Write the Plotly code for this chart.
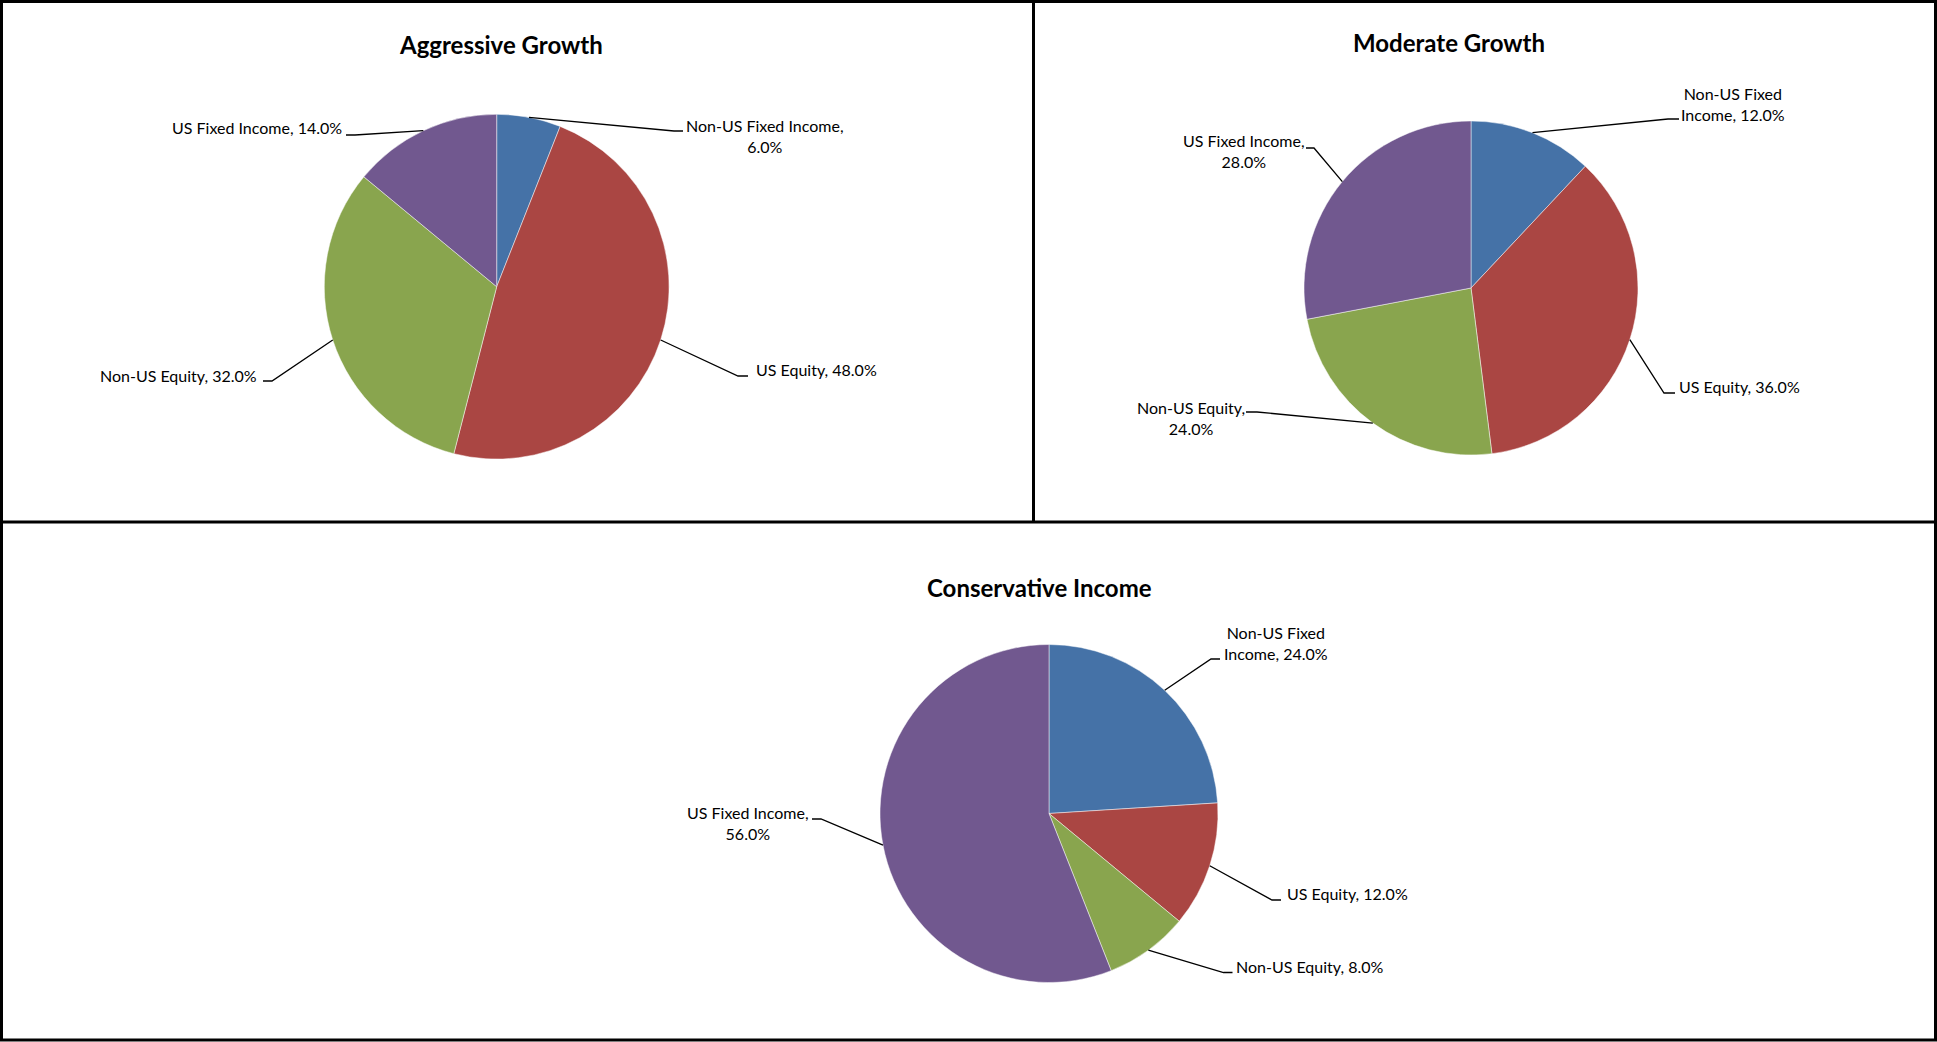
import math
import plotly.graph_objects as go

# ---------------- data ----------------
categories = ["Non-US Fixed Income", "US Equity", "Non-US Equity", "US Fixed Income"]
aggressive = [6.0, 48.0, 32.0, 14.0]
moderate = [12.0, 36.0, 24.0, 28.0]
conservative = [24.0, 12.0, 8.0, 56.0]
titles = ["Aggressive Growth", "Moderate Growth", "Conservative Income"]
colors = ["#4572A7", "#AA4643", "#89A54E", "#71588F"]

# ---------------- layout constants (pixels) ----------------
W, H = 1937, 1042
FONT = "Lato, Open Sans, sans-serif"
LABEL_DY = -1.5

pies = [
    dict(values=aggressive, title=titles[0], cx=496.7, cy=286.7, r=172.4, tpos=(501, 45),
         labels=[
             dict(wrap="comma", tx=765, ty=137, anchor="center", near=674, far=683, ly=131),
             dict(wrap="none", tx=753.5, ty=371, anchor="left", near=738, far=748, ly=376),
             dict(wrap="none", tx=259.4, ty=377, anchor="right", near=272, far=263, ly=381),
             dict(wrap="none", tx=344, ty=129, anchor="right", near=355, far=346, ly=135),
         ]),
    dict(values=moderate, title=titles[1], cx=1471, cy=288, r=167, tpos=(1449, 42),
         labels=[
             dict(wrap="fixed", tx=1733, ty=105, anchor="center", near=1668, far=1679, ly=119),
             dict(wrap="none", tx=1677, ty=388, anchor="left", near=1664, far=1675, ly=393),
             dict(wrap="comma", tx=1191, ty=419, anchor="center", near=1257, far=1246, ly=412),
             dict(wrap="comma", tx=1243.5, ty=152.5, anchor="center", near=1314, far=1306, ly=148),
         ]),
    dict(values=conservative, title=titles[2], cx=1049, cy=813.5, r=169, tpos=(1039.5, 587.5),
         labels=[
             dict(wrap="fixed", tx=1276, ty=644.5, anchor="center", near=1211, far=1220, ly=659),
             dict(wrap="none", tx=1285, ty=895, anchor="left", near=1272, far=1281, ly=900),
             dict(wrap="none", tx=1234, ty=968, anchor="left", near=1223.5, far=1232.5, ly=972.5),
             dict(wrap="comma", tx=748, ty=824.5, anchor="center", near=821, far=812, ly=819),
         ]),
]


def px(x):
    return x / W


def py(y):
    return 1 - y / H


def label_text(cat, val, wrap):
    if wrap == "comma":
        return f"{cat},<br>{val:.1f}%"
    if wrap == "fixed":
        head, tail = cat.split(" Fixed ")
        return f"{head} Fixed<br>{tail}, {val:.1f}%"
    return f"{cat}, {val:.1f}%"


fig = go.Figure()
annotations = []
shapes = []

for p in pies:
    cx, cy, r = p["cx"], p["cy"], p["r"]
    fig.add_trace(go.Pie(
        labels=categories, values=p["values"], sort=False, direction="clockwise",
        rotation=0, textinfo="none", hoverinfo="label+percent",
        marker=dict(colors=colors, line=dict(color="rgba(255,255,255,0.6)", width=0.8)),
        domain=dict(x=[px(cx - r), px(cx + r)], y=[py(cy + r), py(cy - r)]),
        showlegend=False,
    ))
    annotations.append(dict(
        x=px(p["tpos"][0]), y=py(p["tpos"][1]), xref="paper", yref="paper",
        text=f"<b>{p['title']}</b>", showarrow=False, xanchor="center", yanchor="middle",
        font=dict(family=FONT, size=24, color="black"),
    ))
    total = sum(p["values"])
    cum = 0.0
    for cat, val, lab in zip(categories, p["values"], p["labels"]):
        mid = (cum + val / 2) / total * 2 * math.pi
        cum += val
        ex = cx + r * math.sin(mid)
        ey = cy - r * math.cos(mid)
        path = (f"M {px(ex)},{py(ey)} L {px(lab['near'])},{py(lab['ly'])} "
                f"L {px(lab['far'])},{py(lab['ly'])}")
        shapes.append(dict(type="path", path=path, xref="paper", yref="paper",
                           line=dict(color="black", width=1.3)))
        annotations.append(dict(
            x=px(lab["tx"]), y=py(lab["ty"] + LABEL_DY), xref="paper", yref="paper",
            text=label_text(cat, val, lab["wrap"]), showarrow=False,
            xanchor=lab["anchor"], yanchor="middle", align="center",
            font=dict(family=FONT, size=16, color="black"),
        ))

# panel borders
bw = 3
shapes.append(dict(type="rect", xref="paper", yref="paper",
                   x0=px(1.5), y0=py(1040), x1=px(1935.5), y1=py(1.5),
                   line=dict(color="black", width=bw)))
shapes.append(dict(type="line", xref="paper", yref="paper",
                   x0=px(0), y0=py(522), x1=px(W), y1=py(522),
                   line=dict(color="black", width=bw)))
shapes.append(dict(type="line", xref="paper", yref="paper",
                   x0=px(1033.5), y0=py(0), x1=px(1033.5), y1=py(522),
                   line=dict(color="black", width=bw)))

fig.update_layout(
    width=W, height=H, margin=dict(l=0, r=0, t=0, b=0),
    paper_bgcolor="white", plot_bgcolor="white",
    annotations=annotations, shapes=shapes, showlegend=False,
)

fig.write_html("out.html", config={"displayModeBar": False},
               post_script="document.body.style.margin='0';")
